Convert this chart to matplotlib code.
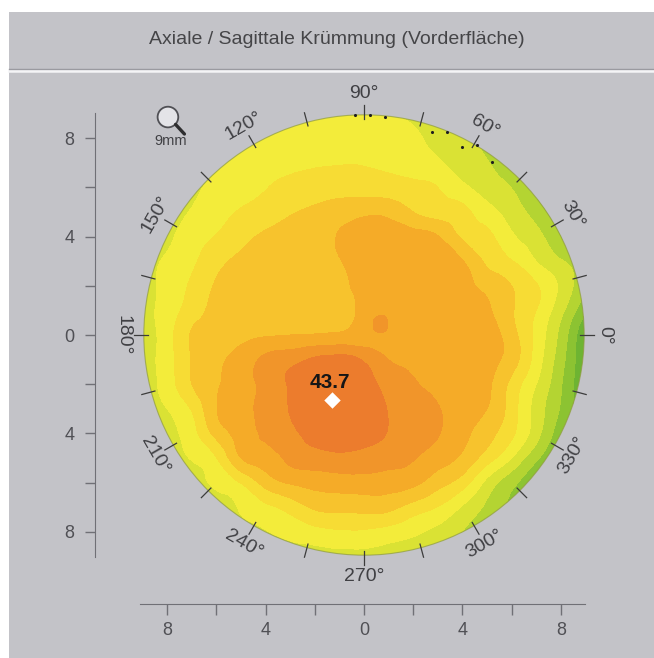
import numpy as np
import matplotlib.pyplot as plt
import matplotlib.tri as mtri
from matplotlib.patches import Circle, Rectangle
from matplotlib.lines import Line2D

plt.rcParams['font.family'] = ['Liberation Sans', 'DejaVu Sans']

W, H, DPI = 654, 658, 100
PX = 24.6           # pixels per mm on the map
CX, CY = 364, 335   # map centre, pixels from top-left
R = 8.95            # radius of the measured zone (mm)
BG = '#c3c3c8'

title = 'Axiale / Sagittale Krümmung (Vorderfläche)'

# sample grid of axial curvature values (D), x = -9..9, rows from y = +9 down to -9
grid_x = np.arange(-9, 10)
grid_y = np.arange(9, -10, -1)
k_rows = [
    [40.0, 40.05, 40.1, 40.2, 40.3, 40.4, 40.5, 40.6, 40.65, 40.65, 40.55, 40.35, 40.1, 39.85, 39.6, 39.4, 39.25, 39.15, 39.05],
    [40.1, 40.15, 40.2, 40.3, 40.4, 40.55, 40.7, 40.75, 40.8, 40.8, 40.73, 40.6, 40.35, 40.15, 39.85, 39.55, 39.35, 39.2, 39.05],
    [40.15, 40.2, 40.3, 40.45, 40.63, 40.8, 40.9, 40.95, 40.98, 40.98, 40.9, 40.75, 40.58, 40.25, 40.03, 39.6, 39.3, 39.15, 39.0],
    [40.2, 40.3, 40.43, 40.6, 40.8, 40.98, 41.13, 41.23, 41.28, 41.25, 41.23, 41.13, 41.0, 40.63, 40.3, 39.98, 39.4, 39.2, 39.05],
    [40.25, 40.35, 40.53, 40.78, 41.05, 41.23, 41.45, 41.6, 41.78, 41.9, 41.85, 41.5, 41.28, 41.13, 40.7, 40.3, 39.75, 39.2, 39.0],
    [40.15, 40.4, 40.75, 41.03, 41.35, 41.58, 41.7, 41.8, 42.03, 42.18, 42.25, 42.2, 42.03, 41.43, 41.13, 40.58, 40.18, 39.5, 38.9],
    [40.25, 40.58, 40.9, 41.35, 41.58, 41.68, 41.75, 41.85, 41.98, 42.2, 42.3, 42.3, 42.25, 42.03, 41.4, 41.03, 40.5, 40.05, 39.6],
    [40.25, 40.68, 41.08, 41.55, 41.65, 41.7, 41.78, 41.85, 41.93, 42.13, 42.3, 42.33, 42.25, 42.15, 41.85, 41.5, 41.05, 40.4, 39.55],
    [40.3, 40.73, 41.25, 41.63, 41.7, 41.75, 41.8, 41.85, 41.9, 42.15, 42.35, 42.33, 42.28, 42.23, 42.08, 41.55, 41.0, 40.15, 39.1],
    [40.3, 40.78, 41.55, 41.7, 41.85, 41.95, 42.0, 42.03, 42.08, 42.25, 42.35, 42.28, 42.25, 42.23, 42.23, 41.7, 40.85, 39.85, 38.5],
    [40.3, 40.78, 41.53, 41.9, 42.2, 42.63, 42.83, 43.1, 43.23, 42.93, 42.5, 42.4, 42.33, 42.28, 42.15, 41.75, 40.78, 39.7, 38.5],
    [40.3, 40.73, 41.5, 41.95, 42.28, 42.65, 43.05, 43.4, 43.6, 43.2, 42.85, 42.55, 42.38, 42.28, 42.1, 41.35, 40.5, 39.55, 38.45],
    [40.25, 40.5, 41.05, 41.98, 42.33, 42.68, 43.03, 43.45, 43.65, 43.3, 42.98, 42.75, 42.53, 42.25, 42.0, 41.25, 40.3, 39.45, 38.55],
    [40.15, 40.35, 40.8, 41.68, 42.2, 42.6, 42.88, 43.2, 43.3, 43.15, 42.98, 42.75, 42.53, 42.15, 41.7, 41.1, 40.2, 39.2, 38.6],
    [40.05, 40.2, 40.53, 40.98, 42.0, 42.28, 42.63, 42.8, 42.88, 42.85, 42.73, 42.53, 42.25, 41.9, 41.25, 40.5, 39.6, 39.05, 38.75],
    [39.95, 40.1, 40.3, 40.6, 41.03, 41.7, 42.05, 42.18, 42.25, 42.28, 42.23, 42.13, 41.7, 41.25, 40.35, 39.65, 39.15, 38.95, 38.8],
    [39.85, 40.0, 40.15, 40.3, 40.55, 40.88, 41.2, 41.58, 41.65, 41.68, 41.65, 41.3, 40.98, 40.45, 39.9, 39.4, 39.15, 38.95, 38.85],
    [39.75, 39.9, 40.05, 40.2, 40.35, 40.48, 40.65, 40.83, 40.93, 40.93, 40.8, 40.6, 40.35, 40.0, 39.6, 39.3, 39.1, 38.95, 38.85],
    [39.7, 39.8, 39.9, 40.0, 40.1, 40.2, 40.25, 40.3, 40.33, 40.33, 40.28, 40.2, 40.05, 39.85, 39.55, 39.3, 39.1, 38.95, 38.85],
]
# extra samples: small steep island near the centre and the maximum
extra_x = [0.6, -1.3]
extra_y = [0.45, -2.64]
extra_k = [42.6, 43.7]

levels = [37.0, 39.0, 39.5, 40.0, 40.5, 41.0, 41.5, 42.0, 42.5, 43.0, 45.0]
colors = ['#6eb432', '#8cc332', '#b4d432', '#dae234', '#f3ec3a',
          '#f7dc34', '#f7c32d', '#f5ab28', '#f1952a', '#ec7c2d']

tick_angles = np.arange(0, 360, 15)
label_angles = np.arange(0, 360, 30)

# marks along the upper rim
dots_x = [-0.37, 0.24, 0.85, 2.76, 3.37, 3.98, 4.59, 5.2]
dots_y = [8.94, 8.94, 8.86, 8.25, 8.25, 7.64, 7.72, 7.03]

peak_x, peak_y, peak_val = -1.3, -2.64, 43.7

ruler_ticks = np.arange(-8, 9, 2)

fig = plt.figure(figsize=(W / DPI, H / DPI), dpi=DPI, facecolor='white')
fig.add_artist(Rectangle((9 / W, 0), 1 - 9 / W, 1 - 12 / H, transform=fig.transFigure,
                         facecolor=BG, edgecolor='none', zorder=0))
fig.add_artist(Line2D([9 / W, 1], [1 - 68.5 / H] * 2, color='#9a9aa0', lw=1.0, zorder=1))
fig.add_artist(Line2D([9 / W, 1], [1 - 71 / H] * 2, color='#f4f4f6', lw=1.8, zorder=1))
fig.text(337 / W, 1 - 40 / H, title, ha='center', va='center', fontsize=14, color='#454548')

ax = fig.add_axes([0, 0, 1, 1])
ax.set_xlim(-CX / PX, (W - CX) / PX)
ax.set_ylim(-(H - CY) / PX, CY / PX)
ax.axis('off')

gx, gy = np.meshgrid(grid_x, grid_y)
px = np.concatenate([gx.ravel(), extra_x])
py = np.concatenate([gy.ravel(), extra_y])
pk = np.concatenate([np.array(k_rows).ravel(), extra_k])
tri = mtri.Triangulation(px, py)
tri_f, k_f = mtri.UniformTriRefiner(tri).refine_field(pk, subdiv=3)
cs = ax.tricontourf(tri_f, k_f, levels=levels, colors=colors, zorder=2)
clip = Circle((0, 0), R, transform=ax.transData)
cs.set_clip_path(clip)
ax.add_patch(Circle((0, 0), R, facecolor='none', edgecolor='#8f9c3c', lw=0.8, alpha=0.7, zorder=3))

# angular scale
for a in tick_angles:
    t = np.radians(a)
    ax.plot([8.8 * np.cos(t), 9.35 * np.cos(t)], [8.8 * np.sin(t), 9.35 * np.sin(t)],
            color='#3c3c3c', lw=0.9, zorder=4)
for a in label_angles:
    t = np.radians(a)
    rot = a - 90 if a < 180 else a + 90
    rot = (rot + 180) % 360 - 180
    ax.text(9.8 * np.cos(t), 9.8 * np.sin(t), f'{a}°', rotation=rot, rotation_mode='anchor',
            ha='center', va='center', fontsize=14, color='#404044', zorder=4)

ax.scatter(dots_x, dots_y, s=5, color='#1e1e1e', zorder=5, linewidths=0)

ax.scatter([peak_x], [peak_y], marker='D', s=70, color='white', zorder=6, linewidths=0)
ax.text(peak_x - 0.1, peak_y + 0.7, f'{peak_val:.1f}', ha='center', va='center',
        fontsize=15, fontweight='bold', color='#161616', zorder=6)

# magnifier icon
ax.add_patch(Circle((-7.97, 8.86), 0.42, facecolor='#e4e4e8', edgecolor='#505055', lw=1.3, zorder=5))
ax.plot([-7.66, -7.3], [8.56, 8.17], color='#2e2e30', lw=2.4, solid_capstyle='round', zorder=5)
ax.text(-7.85, 7.88, '9mm', ha='center', va='center', fontsize=10.5, color='#404044', zorder=5)

# left ruler
axl = fig.add_axes([95 / W, (H - 557) / H, 1 / W, 444 / H])
axl.set_ylim(-(557 - CY) / PX, (CY - 113) / PX)
axl.set_xticks([])
axl.set_yticks(ruler_ticks)
axl.set_yticklabels([str(abs(v)) if v % 4 == 0 else '' for v in ruler_ticks])
for s in ['top', 'right', 'bottom']:
    axl.spines[s].set_visible(False)
axl.spines['left'].set_color('#707076')
axl.patch.set_visible(False)
axl.tick_params(axis='y', direction='out', length=7, width=1, color='#707076',
                labelsize=13, labelcolor='#505055', pad=8)

# bottom ruler
axb = fig.add_axes([140 / W, (H - 604) / H, 445 / W, 1 / H])
axb.set_xlim((140 - CX) / PX, (585 - CX) / PX)
axb.set_yticks([])
axb.set_xticks(ruler_ticks)
axb.set_xticklabels([str(abs(v)) if v % 4 == 0 else '' for v in ruler_ticks])
for s in ['top', 'right', 'left']:
    axb.spines[s].set_visible(False)
axb.spines['bottom'].set_color('#707076')
axb.patch.set_visible(False)
axb.tick_params(axis='x', direction='out', length=8, width=1, color='#707076',
                labelsize=13, labelcolor='#505055', pad=5)

fig.savefig('out.png', dpi=DPI, facecolor='white')
